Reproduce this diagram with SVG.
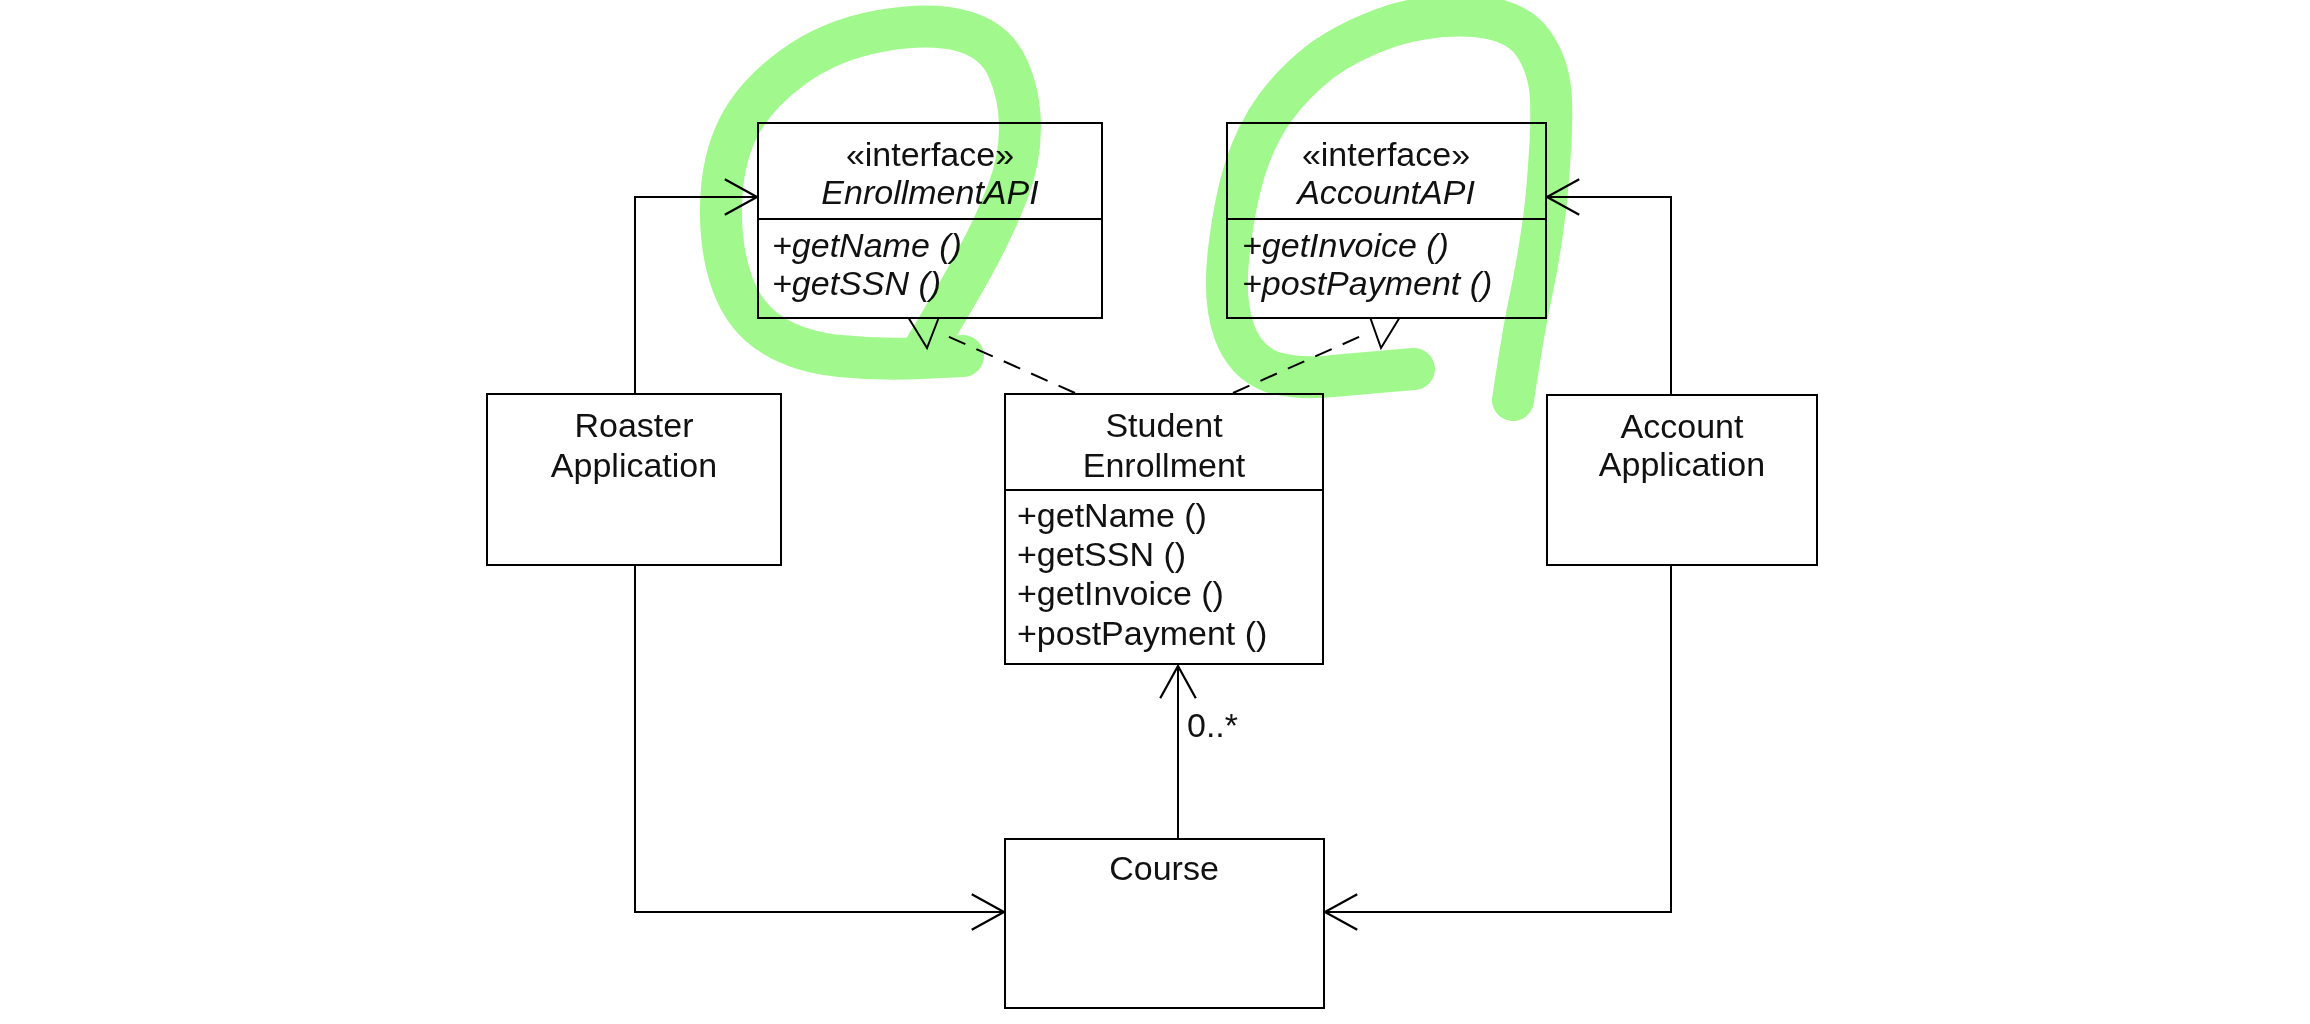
<svg xmlns="http://www.w3.org/2000/svg" width="2310" height="1024" viewBox="0 0 2310 1024">
<style>
.box{fill:#fff;stroke:#000;stroke-width:2}
.ln{fill:none;stroke:#000;stroke-width:2}
.dash{fill:none;stroke:#000;stroke-width:2;stroke-dasharray:18 12}
text{font-family:"Liberation Sans",Arial,sans-serif;font-size:34px;fill:#111}
.c{text-anchor:middle}
.i{font-style:italic}
.hl{fill:none;stroke:#a1f98d;stroke-width:42;stroke-linecap:round;stroke-linejoin:round;mix-blend-mode:multiply}
</style>
<defs>
<marker id="open" markerUnits="userSpaceOnUse" markerWidth="40" markerHeight="40" refX="29" refY="16" orient="auto" viewBox="-2 -2 36 36">
<path d="M0,0 L29,16 L0,32" fill="none" stroke="#000" stroke-width="2"/>
</marker>
</defs>
<rect width="2310" height="1024" fill="#fff"/>
<g id="connectors">
<path class="ln" d="M635,394 V197 H757" marker-end="url(#open)"/>
<path class="ln" d="M635,565 V912 H1004" marker-end="url(#open)"/>
<path class="ln" d="M1671,395 V197 H1547" marker-end="url(#open)"/>
<path class="ln" d="M1671,565 V912 H1325" marker-end="url(#open)"/>
<path class="ln" d="M1178,839 V666" marker-end="url(#open)"/>
<path class="dash" d="M1075,393 L938,332"/>
<polyline class="ln" points="908,317 927,348 939,317"/>
<path class="dash" d="M1233,393 L1368,333"/>
<polyline class="ln" points="1370,317 1381,348 1400,317"/>
<text x="1187" y="737">0..*</text>
</g>
<g id="EnrollmentAPI">
<rect class="box" x="758" y="123" width="344" height="195"/>
<line class="ln" x1="758" y1="219" x2="1102" y2="219"/>
<text class="c" x="930" y="166">«interface»</text>
<text class="c i" x="930" y="204">EnrollmentAPI</text>
<text class="i" x="772" y="257">+getName ()</text>
<text class="i" x="772" y="295">+getSSN ()</text>
</g>
<g id="AccountAPI">
<rect class="box" x="1227" y="123" width="319" height="195"/>
<line class="ln" x1="1227" y1="219" x2="1546" y2="219"/>
<text class="c" x="1386" y="166">«interface»</text>
<text class="c i" x="1386" y="204">AccountAPI</text>
<text class="i" x="1242" y="257">+getInvoice ()</text>
<text class="i" x="1242" y="295">+postPayment ()</text>
</g>
<g id="RoasterApplication">
<rect class="box" x="487" y="394" width="294" height="171"/>
<text class="c" x="634" y="437">Roaster</text>
<text class="c" x="634" y="477">Application</text>
</g>
<g id="StudentEnrollment">
<rect class="box" x="1005" y="394" width="318" height="270"/>
<line class="ln" x1="1005" y1="490" x2="1323" y2="490"/>
<text class="c" x="1164" y="437">Student</text>
<text class="c" x="1164" y="477">Enrollment</text>
<text x="1017" y="527">+getName ()</text>
<text x="1017" y="566">+getSSN ()</text>
<text x="1017" y="605">+getInvoice ()</text>
<text x="1017" y="645">+postPayment ()</text>
</g>
<g id="AccountApplication">
<rect class="box" x="1547" y="395" width="270" height="170"/>
<text class="c" x="1682" y="438">Account</text>
<text class="c" x="1682" y="476">Application</text>
</g>
<g id="Course">
<rect class="box" x="1005" y="839" width="319" height="169"/>
<text class="c" x="1164" y="880">Course</text>
</g>
<g id="highlights">
<path class="hl" d="M963,356 L921.5,358 Q880,360 840,356 Q800,352 772.5,335 Q745,318 732.5,284 Q720,250 721,205 Q722,160 738.5,127.5 Q755,95 792.5,67.5 Q830,40 880,31 Q930,22 962.5,31 Q995,40 1007.5,67.5 Q1020,95 1020,127.5 Q1020,160 1007.5,192.5 Q995,225 977.5,257.5 Q960,290 925,348"/>
<path class="hl" d="M1414,369 L1390,371 Q1367,373 1333,376 Q1300,380 1272,372 Q1245,362 1234,331 Q1223,300 1229,250 Q1235,200 1246,166 Q1257,133 1275,108 Q1293,83 1321,61 Q1350,40 1391,26 Q1433,13 1475,16 Q1517,20 1533,43 Q1550,67 1551,100 Q1552,133 1549,166 Q1547,200 1542,233 Q1537,267 1530,300 Q1523,333 1513,400"/>
</g>
</svg>
